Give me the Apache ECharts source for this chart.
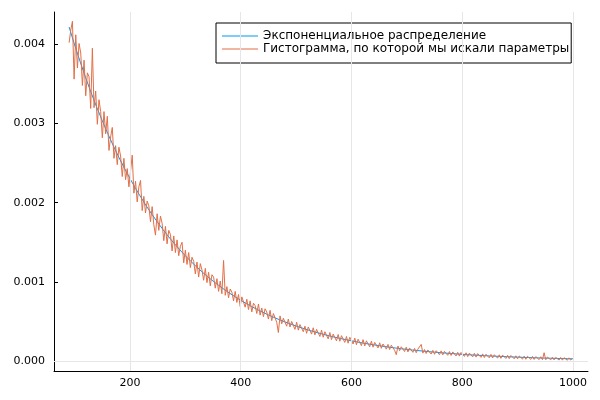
<!DOCTYPE html>
<html>
<head>
<meta charset="utf-8">
<script src="https://cdn.jsdelivr.net/npm/echarts@6/dist/echarts.min.js"></script>
<style>html,body{margin:0;padding:0;background:#fff}#c{width:600px;height:400px}</style>
</head>
<body>
<div id="c"></div>
<script>
// Series names
const seriesNames = ['Экспоненциальное распределение', 'Гистограмма, по которой мы искали параметры'];
// Exponential curve, x from 90 to 1000 step 10
const expX = [90,100,110,120,130,140,150,160,170,180,190,200,210,220,230,240,250,260,270,280,290,300,310,320,330,340,350,360,370,380,390,400,410,420,430,440,450,460,470,480,490,500,510,520,530,540,550,560,570,580,590,600,610,620,630,640,650,660,670,680,690,700,710,720,730,740,750,760,770,780,790,800,810,820,830,840,850,860,870,880,890,900,910,920,930,940,950,960,970,980,990,1000];
const expY = [0.004218,0.003992,0.003779,0.003576,0.003385,0.003204,0.003033,0.002870,0.002717,0.002571,0.002434,0.002304,0.002180,0.002064,0.001953,0.001849,0.001750,0.001656,0.001568,0.001484,0.001404,0.001329,0.001258,0.001191,0.001127,0.001067,0.001010,0.000956,0.000905,0.000856,0.000810,0.000767,0.000726,0.000687,0.000650,0.000615,0.000582,0.000551,0.000522,0.000494,0.000467,0.000442,0.000419,0.000396,0.000375,0.000355,0.000336,0.000318,0.000301,0.000285,0.000270,0.000255,0.000241,0.000228,0.000216,0.000205,0.000194,0.000183,0.000173,0.000164,0.000155,0.000147,0.000139,0.000132,0.000125,0.000118,0.000112,0.000106,0.000100,0.000095,0.000090,0.000085,0.000080,0.000076,0.000072,0.000068,0.000064,0.000061,0.000058,0.000055,0.000052,0.000049,0.000046,0.000044,0.000041,0.000039,0.000037,0.000035,0.000033,0.000031,0.000030,0.000028];
// Histogram values, bins starting at 90 every 3
const histStart = 90;
const histStep = 3;
const histY = [
4020e-6,4180e-6,4290e-6,3560e-6,4120e-6,3700e-6,4010e-6,3890e-6,3480e-6,3800e-6,
3350e-6,3640e-6,3590e-6,3190e-6,3950e-6,3200e-6,3410e-6,2990e-6,3300e-6,3150e-6,
2820e-6,3150e-6,2870e-6,3090e-6,2660e-6,2830e-6,2950e-6,2560e-6,2720e-6,2480e-6,
2700e-6,2590e-6,2330e-6,2560e-6,2290e-6,2430e-6,2200e-6,2400e-6,2600e-6,2120e-6,
2270e-6,2010e-6,2200e-6,2280e-6,1900e-6,2080e-6,1870e-6,2020e-6,1960e-6,1760e-6,
1950e-6,1720e-6,1590e-6,1860e-6,1650e-6,1830e-6,1740e-6,1520e-6,1700e-6,1480e-6,
1650e-6,1600e-6,1390e-6,1580e-6,1370e-6,1530e-6,1330e-6,1450e-6,1500e-6,1240e-6,
1400e-6,1220e-6,1370e-6,1180e-6,1310e-6,1260e-6,1100e-6,1250e-6,1060e-6,1230e-6,
1150e-6,1020e-6,1170e-6,990e-6,1120e-6,950e-6,1090e-6,1060e-6,920e-6,1040e-6,
880e-6,1010e-6,850e-6,1270e-6,830e-6,940e-6,800e-6,910e-6,870e-6,760e-6,
880e-6,740e-6,840e-6,690e-6,810e-6,790e-6,680e-6,780e-6,650e-6,760e-6,
620e-6,730e-6,700e-6,600e-6,720e-6,580e-6,670e-6,560e-6,660e-6,620e-6,
530e-6,640e-6,510e-6,600e-6,580e-6,490e-6,360e-6,570e-6,470e-6,540e-6,
520e-6,440e-6,530e-6,430e-6,500e-6,480e-6,400e-6,490e-6,390e-6,460e-6,
470e-6,370e-6,440e-6,350e-6,430e-6,410e-6,340e-6,420e-6,330e-6,400e-6,
380e-6,310e-6,390e-6,300e-6,370e-6,350e-6,280e-6,360e-6,270e-6,340e-6,
330e-6,255e-6,335e-6,250e-6,320e-6,300e-6,235e-6,310e-6,225e-6,300e-6,
285e-6,215e-6,290e-6,205e-6,275e-6,260e-6,195e-6,270e-6,190e-6,255e-6,
240e-6,180e-6,250e-6,175e-6,235e-6,220e-6,165e-6,230e-6,160e-6,215e-6,
200e-6,150e-6,210e-6,145e-6,200e-6,185e-6,135e-6,80e-6,190e-6,130e-6,
180e-6,170e-6,120e-6,175e-6,115e-6,165e-6,155e-6,110e-6,160e-6,105e-6,
150e-6,140e-6,210e-6,100e-6,145e-6,95e-6,140e-6,130e-6,88e-6,135e-6,
85e-6,130e-6,120e-6,80e-6,128e-6,78e-6,122e-6,110e-6,72e-6,120e-6,
70e-6,115e-6,105e-6,64e-6,110e-6,62e-6,108e-6,98e-6,58e-6,104e-6,
55e-6,100e-6,90e-6,52e-6,97e-6,50e-6,94e-6,84e-6,46e-6,90e-6,
44e-6,86e-6,78e-6,40e-6,84e-6,38e-6,80e-6,72e-6,36e-6,78e-6,
34e-6,75e-6,68e-6,32e-6,72e-6,30e-6,70e-6,62e-6,28e-6,66e-6,
27e-6,64e-6,58e-6,24e-6,62e-6,22e-6,60e-6,54e-6,21e-6,58e-6,
20e-6,56e-6,50e-6,18e-6,54e-6,17e-6,105e-6,16e-6,50e-6,44e-6,
15e-6,48e-6,14e-6,46e-6,40e-6,12e-6,45e-6,11e-6,42e-6,38e-6,
10e-6,40e-6,12e-6,30e-6];
// Axis ticks
const xTicks = [200, 400, 600, 800, 1000];
const yTicks = [0, 0.001, 0.002, 0.003, 0.004];
const xRange = [62.7, 1027.3];
const yRange = [-0.000126, 0.004408];

const expData = expX.map((x, i) => [x, expY[i]]);
const histData = histY.map((y, i) => [histStart + i * histStep, y]);

const font = 'DejaVu Sans';
const gridColor = '#e6e6e6';
const chart = echarts.init(document.getElementById('c'), null, {renderer: 'canvas'});
chart.setOption({
  animation: false,
  backgroundColor: '#fff',
  grid: {left: 54, right: 12, top: 12, bottom: 29, containLabel: false},
  legend: {
    orient: 'vertical',
    left: 216, top: 23,
    padding: [7, 2, 8, 6],
    itemWidth: 36, itemHeight: 12, itemGap: 1,
    icon: 'path://M0,0L36,0L36,1L0,1Z',
    borderColor: '#000', borderWidth: 1,
    backgroundColor: '#fff',
    textStyle: {fontFamily: font, fontSize: 12, color: '#000'},
    data: seriesNames
  },
  xAxis: {
    type: 'value', min: xRange[0], max: xRange[1],
    axisLine: {show: true, onZero: false, lineStyle: {color: '#000', width: 1}},
    axisTick: {show: true, inside: true, length: 4, customValues: xTicks, lineStyle: {color: '#000'}},
    axisLabel: {customValues: xTicks, fontFamily: font, fontSize: 11, color: '#000', margin: 7,
      formatter: v => String(v)},
    splitLine: {show: false}
  },
  yAxis: {
    type: 'value', min: yRange[0], max: yRange[1],
    axisLine: {show: true, onZero: false, lineStyle: {color: '#000', width: 1}},
    axisTick: {show: true, inside: true, length: 4, customValues: yTicks, lineStyle: {color: '#000'}},
    axisLabel: {customValues: yTicks, fontFamily: font, fontSize: 11, color: '#000', margin: 9,
      formatter: v => v.toFixed(3)},
    splitLine: {show: false}
  },
  series: [
    {name: 'grid', type: 'line', data: [], silent: true, z: 0,
     markLine: {silent: true, symbol: 'none', animation: false,
       label: {show: false},
       lineStyle: {color: gridColor, type: 'solid', width: 1},
       emphasis: {disabled: true},
       data: xTicks.map(v => ({xAxis: v})).concat(yTicks.map(v => ({yAxis: v})))}},
    {name: seriesNames[0], type: 'line', data: expData, symbol: 'none', showSymbol: false, color: '#009AFA',
     lineStyle: {width: 1, color: '#009AFA'}, z: 2},
    {name: seriesNames[1], type: 'line', data: histData, symbol: 'none', showSymbol: false, color: '#E36F47',
     lineStyle: {width: 1, color: '#E36F47'}, z: 3}
  ]
});
</script>
</body>
</html>
